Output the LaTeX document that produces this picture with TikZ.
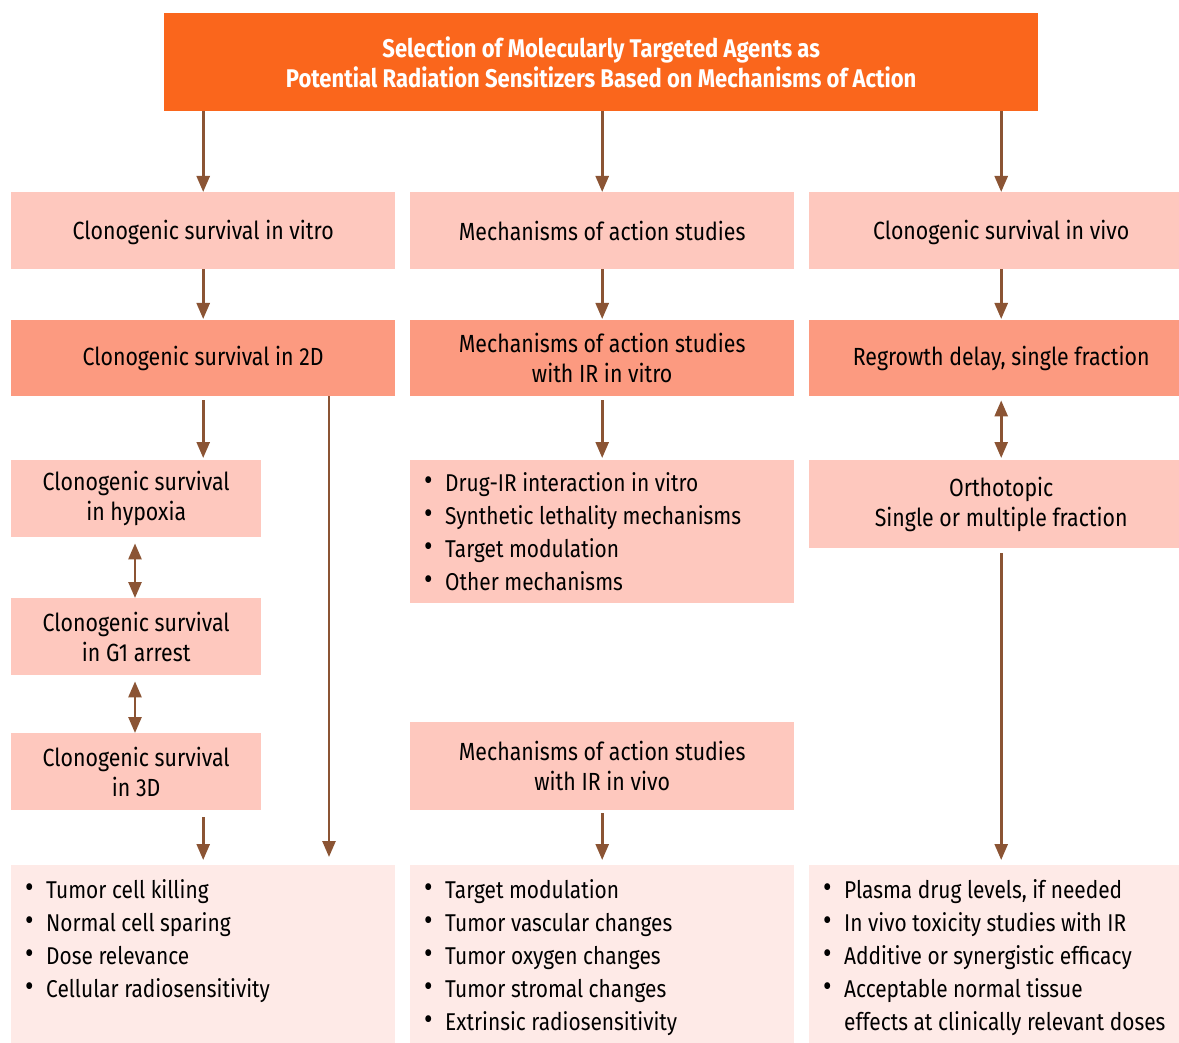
\documentclass[tikz,border=0pt]{standalone}
\usepackage{fontspec}
\setmainfont[FakeStretch=0.86]{Fira Sans}
\usetikzlibrary{arrows.meta,calc}
\definecolor{topor}{HTML}{FA661C}
\definecolor{lpink}{HTML}{FEC8BE}
\definecolor{salmon}{HTML}{FC9A80}
\definecolor{vlpink}{HTML}{FEEAE7}
\definecolor{arrbr}{HTML}{8B5434}
\newcommand{\bl}[1]{\makebox[21pt][l]{\raisebox{0.5pt}{\scalebox{1.25}{\textbullet}}}#1}
\tikzset{
  box/.style={anchor=north west, inner sep=0pt, align=center, text=black,
    font=\fontsize{24.8}{30}\selectfont},
  lbox/.style={box, fill=lpink},
  sbox/.style={box, fill=salmon},
  vbox/.style={box, fill=vlpink},
  listtxt/.style={anchor=north west, inner sep=0pt, align=left, text=black,
    font=\fontsize{24.3}{33}\selectfont},
  arr/.style={draw=arrbr, line width=2.6pt, -{Triangle[width=13pt,length=16pt]}},
  darr/.style={draw=arrbr, line width=2.6pt, {Triangle[width=13pt,length=16pt]}-{Triangle[width=13pt,length=16pt]}}
}
\begin{document}
\begin{tikzpicture}[x=1pt,y=-1pt]
\useasboundingbox (0,0) rectangle (1179,1043);
% top
\node[box, fill=topor, text=white, minimum width=874pt, minimum height=98pt,
  font=\fontsize{25.6}{30}\selectfont\bfseries] (top) at (164,13)
  {Selection of Molecularly Targeted Agents as\\Potential Radiation Sensitizers Based on Mechanisms of Action};
% row 1
\node[lbox, minimum width=384pt, minimum height=77pt, text depth=2pt] (r1a) at (11,192) {Clonogenic survival in vitro};
\node[lbox, minimum width=384pt, minimum height=77pt] (r1b) at (410,192) {Mechanisms of action studies};
\node[lbox, minimum width=384pt, minimum height=77pt, text depth=2pt] (r1c) at (809,192) {Clonogenic survival in vivo};
% row 2
\node[sbox, minimum width=384pt, minimum height=76pt] (r2a) at (11,320) {Clonogenic survival in 2D};
\node[sbox, minimum width=384pt, minimum height=76pt] (r2b) at (410,320) {Mechanisms of action studies\\with IR in vitro};
\node[sbox, minimum width=384pt, minimum height=76pt] (r2c) at (809,320) {Regrowth delay, single fraction};
% left column
\node[lbox, minimum width=250pt, minimum height=77pt] (hyp) at (11,460) {Clonogenic survival\\in hypoxia};
\node[lbox, minimum width=250pt, minimum height=77pt] (g1) at (11,598) {Clonogenic survival\\in G1 arrest};
\node[lbox, minimum width=250pt, minimum height=77pt] (d3) at (11,733) {Clonogenic survival\\in 3D};
% middle
\node[lbox, minimum width=384pt, minimum height=143pt] (mlist) at (410,460) {};
\node[listtxt] (mlistt) at (424,472)
  {\bl{Drug-IR interaction in vitro}\\\bl{Synthetic lethality mechanisms}\\\bl{Target modulation}\\\bl{Other mechanisms}};
\node[lbox, minimum width=384pt, minimum height=88pt] (mviv) at (410,722) {Mechanisms of action studies\\with IR in vivo};
% right
\node[lbox, minimum width=384pt, minimum height=88pt] (orth) at (809,460) {Orthotopic\\Single or multiple fraction};
% bottom
\node[vbox, minimum width=384pt, minimum height=178pt] (b1) at (11,865) {};
\node[vbox, minimum width=384pt, minimum height=178pt] (b2) at (410,865) {};
\node[vbox, minimum width=384pt, minimum height=178pt] (b3) at (809,865) {};
\node[listtxt] (b1t) at (25,879)
  {\bl{Tumor cell killing}\\\bl{Normal cell sparing}\\\bl{Dose relevance}\\\bl{Cellular radiosensitivity}};
\node[listtxt] (b2t) at (424,879)
  {\bl{Target modulation}\\\bl{Tumor vascular changes}\\\bl{Tumor oxygen changes}\\\bl{Tumor stromal changes}\\\bl{Extrinsic radiosensitivity}};
\node[listtxt] (b3t) at (823,879)
  {\bl{Plasma drug levels, if needed}\\\bl{In vivo toxicity studies with IR}\\\bl{Additive or synergistic efficacy}\\\bl{Acceptable normal tissue}\\\hspace{21pt}effects at clinically relevant doses};
% coordinates
\coordinate (xL) at (329,0);
\coordinate (xH) at (135,0);
% arrows
\draw[arr] (top.south -| r1a.north) -- (r1a.north);
\draw[arr] (top.south -| r1b.north) -- (r1b.north);
\draw[arr] (top.south -| r1c.north) -- (r1c.north);
\draw[arr, shorten >=1pt] (r1a) -- (r2a);
\draw[arr, shorten >=1pt] (r1b) -- (r2b);
\draw[arr, shorten >=1pt] (r1c) -- (r2c);
\draw[arr, shorten <=4pt, shorten >=2pt] (r2a.south) -- (r2a.south |- hyp.north);
\draw[arr, shorten >=8pt] (r2a.south -| xL) -- (b1.north -| xL);
\draw[darr, shorten <=6pt] (hyp.south -| xH) -- (g1.north -| xH);
\draw[darr, shorten <=6pt] (g1.south -| xH) -- (d3.north -| xH);
\draw[arr, shorten <=7pt, shorten >=5pt] (d3.south -| r1a.north) -- (b1.north -| r1a.north);
\draw[arr, shorten <=4pt, shorten >=2pt] (r2b) -- (mlist);
\draw[arr, shorten <=3pt, shorten >=5pt] (mviv) -- (b2);
\draw[darr, shorten <=4pt, shorten >=2pt] (r2c) -- (orth);
\draw[arr, shorten <=5pt, shorten >=5pt] (orth) -- (b3);
\end{tikzpicture}
\end{document}
